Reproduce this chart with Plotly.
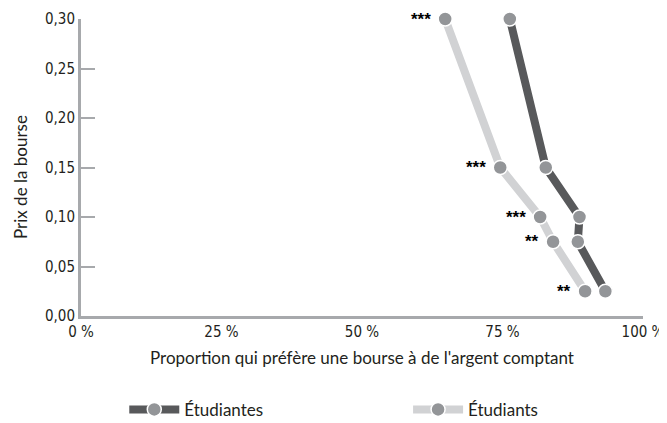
import plotly.graph_objects as go

prix = [0.30, 0.15, 0.10, 0.075, 0.025]
etudiantes = [76.3, 82.7, 88.7, 88.4, 93.3]
etudiants = [64.8, 74.6, 81.7, 84.0, 89.7]
signif = ["***", "***", "***", "**", "**"]
x_ticks = [0, 25, 50, 75, 100]
x_ticktext = ["0 %", "25 %", "50 %", "75 %", "100 %"]
y_ticks = [0, 0.05, 0.10, 0.15, 0.20, 0.25, 0.30]

FONT = "DejaVu Sans Condensed, Liberation Sans Narrow, Liberation Sans, sans-serif"
TFONT = "Lato, Liberation Sans, sans-serif"

fig = go.Figure()
fig.add_trace(go.Scatter(
    x=etudiantes, y=prix, mode="lines+markers", name="Étudiantes",
    line=dict(color="#58595b", width=8),
    marker=dict(color="#939598", size=14, line=dict(color="white", width=1.5)),
    cliponaxis=False, legend="legend"))
fig.add_trace(go.Scatter(
    x=etudiants, y=prix, mode="lines+markers", name="Étudiants",
    line=dict(color="#d1d2d4", width=8),
    marker=dict(color="#939598", size=14, line=dict(color="white", width=1.5)),
    cliponaxis=False, legend="legend2"))

for xv, yv, s in zip(etudiants, prix, signif):
    fig.add_annotation(x=xv, y=yv, text="<b>" + s + "</b>", showarrow=False,
                       xanchor="right", xshift=-12, yshift=0,
                       font=dict(size=17, color="black", family="Liberation Sans, sans-serif"))

fig.add_annotation(xref="paper", yref="paper", x=0.5, y=-0.141, yanchor="middle",
                   text="Proportion qui préfère une bourse à de l'argent comptant",
                   showarrow=False, font=dict(family=TFONT, size=17, color="#231f20"))
fig.add_annotation(xref="paper", yref="paper", x=-0.1085, y=0.468, xanchor="center",
                   yanchor="middle", textangle=-90, text="Prix de la bourse",
                   showarrow=False, font=dict(family=TFONT, size=17, color="#231f20"))

leg_common = dict(orientation="h", y=-0.316, yanchor="middle", itemwidth=50,
                  font=dict(family=TFONT, size=17, color="#231f20"),
                  bgcolor="rgba(0,0,0,0)")

fig.update_layout(
    width=659, height=415,
    margin=dict(l=73, r=24, t=11, b=107, autoexpand=False),
    plot_bgcolor="white", paper_bgcolor="white",
    separators=", ",
    font=dict(family=FONT, color="#231f20", size=15),
    showlegend=True,
    legend=dict(x=0.077, xanchor="left", **leg_common),
    legend2=dict(x=0.582, xanchor="left", **leg_common),
    xaxis=dict(range=[0, 100], tickvals=x_ticks, ticktext=x_ticktext,
               showgrid=False, zeroline=False, showline=True, linecolor="#a7a9ac",
               linewidth=3, ticks="", tickfont=dict(size=15), automargin=False,
               ticklabelstandoff=0),
    yaxis=dict(range=[0, 0.30], tickvals=y_ticks, tickformat=".2f",
               showgrid=False, zeroline=False, showline=True, linecolor="#a7a9ac",
               linewidth=3, ticks="inside", ticklen=14, tickwidth=2, tickcolor="#a7a9ac",
               tickfont=dict(size=15), automargin=False),
)

fig.write_html("out.html")
